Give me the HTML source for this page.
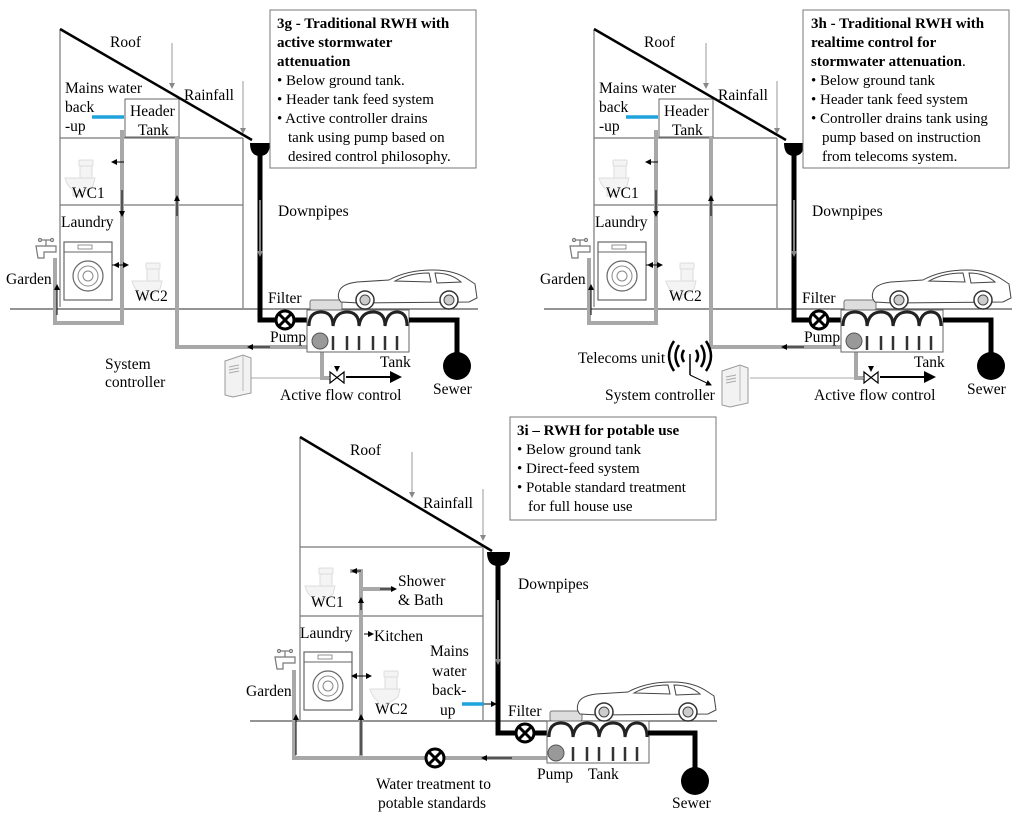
<!DOCTYPE html>
<html><head><meta charset="utf-8"><style>
html,body{margin:0;padding:0;background:#fff}
svg{display:block}
text{font-family:"Liberation Serif",serif;font-size:15.5px;fill:#000}
.b{font-weight:bold}
.s{font-size:15px}
</style></head><body>
<svg width="1024" height="816" viewBox="0 0 1024 816" xmlns="http://www.w3.org/2000/svg">
<defs>
<marker id="ah" markerWidth="6" markerHeight="6" refX="5" refY="3" orient="auto"><path d="M0,0 L6,3 L0,6z" fill="#000"/></marker>
<marker id="ag" markerWidth="6" markerHeight="6" refX="5" refY="3" orient="auto"><path d="M0,0 L6,3 L0,6z" fill="#888"/></marker>
<g id="toilet" fill="#f4f4f4" stroke="#ddd" stroke-width="1">
<rect x="14" y="0" width="14" height="6" rx="1"/>
<rect x="15" y="6" width="12" height="16"/>
<path d="M0,18 L30,18 L28,26 Q20,32 16,32 L16,36 L8,36 L8,30 Q2,26 0,18z"/>
</g>
<g id="washer">
<rect x="0" y="0" width="48" height="58" fill="#fff" stroke="#666" stroke-width="1.2"/>
<line x1="0" y1="10" x2="48" y2="10" stroke="#666"/>
<rect x="14" y="3" width="14" height="4" fill="none" stroke="#666" stroke-width=".7"/>
<circle cx="24" cy="34" r="15" fill="none" stroke="#666" stroke-width="1.2"/>
<circle cx="24" cy="34" r="10" fill="none" stroke="#888"/>
<circle cx="24" cy="34" r="5" fill="none" stroke="#888"/>
</g>
<g id="tap" fill="#fff" stroke="#777" stroke-width="1.2">
<path d="M2,8 L4,20 L10,20 L10,14 L22,14 L22,8z"/>
<line x1="12" y1="8" x2="12" y2="2"/><line x1="6" y1="2" x2="18" y2="2"/>
<circle cx="6" cy="2" r="1.5"/><circle cx="18" cy="2" r="1.5"/>
</g>
<g id="car" fill="#fff" stroke="#444" stroke-width="1">
<path d="M2,22 Q4,14 20,12 L52,10 Q70,0 96,0 Q118,0 132,10 L138,14 L140,28 L132,32 L22,33 L4,32 Q0,28 2,22z"/>
<path d="M58,11 Q72,3 92,3 L94,12z M98,3 Q114,3 124,12 L100,13z" fill="#fff"/>
<circle cx="28" cy="30" r="9" fill="#fff" stroke="#333" stroke-width="1.5"/><circle cx="28" cy="30" r="5" fill="#ccc"/>
<circle cx="112" cy="30" r="9" fill="#fff" stroke="#333" stroke-width="1.5"/><circle cx="112" cy="30" r="5" fill="#ccc"/>
</g>
<g id="tank">
<rect x="3" y="-10" width="32" height="10" fill="#ddd" stroke="#777" rx="2"/>
<rect x="0" y="0" width="102" height="42" fill="#fff" stroke="#666"/>
<path d="M2,16 Q2,2 14,2 Q26,2 26,16 Q28,2 40,2 Q52,2 52,16 Q54,2 66,2 Q78,2 78,16 Q80,2 90,2 Q100,2 100,16" fill="none" stroke="#222" stroke-width="3"/>
<g stroke="#333" stroke-width="2.5"><line x1="26" y1="26" x2="26" y2="40"/><line x1="40" y1="26" x2="40" y2="40"/><line x1="52" y1="26" x2="52" y2="40"/><line x1="66" y1="26" x2="66" y2="40"/><line x1="78" y1="26" x2="78" y2="40"/><line x1="90" y1="26" x2="90" y2="40"/></g>
</g>
<g id="server">
<path d="M0,6 L18,0 L26,3 L26,38 L8,42 L0,40z" fill="#f2f2f2" stroke="#999"/>
<line x1="18" y1="0" x2="18" y2="36" stroke="#bbb"/>
<g stroke="#aaa"><line x1="4" y1="12" x2="14" y2="10"/><line x1="4" y1="15" x2="14" y2="13"/><line x1="4" y1="18" x2="14" y2="16"/></g>
</g>
<g id="xvalve"><circle r="9" fill="#fff" stroke="#000" stroke-width="3"/><path d="M-6,-6 L6,6 M6,-6 L-6,6" stroke="#000" stroke-width="3"/></g>
<g id="panel">
<g stroke="#777" stroke-width="1.2" fill="none">
<line x1="60" y1="30" x2="60" y2="307"/>
<line x1="60" y1="138" x2="243" y2="138"/>
<line x1="60" y1="205" x2="243" y2="205"/>
<line x1="243" y1="138" x2="243" y2="308"/>
</g>
<line x1="10" y1="309" x2="478" y2="309" stroke="#555" stroke-width="1.2"/>
<line x1="172" y1="43" x2="172" y2="88" stroke="#999" marker-end="url(#ag)"/>
<line x1="243" y1="81" x2="243" y2="133" stroke="#999" marker-end="url(#ag)"/>
<rect x="125" y="99" width="54" height="38" fill="#fff" stroke="#666"/>
<line x1="60" y1="29" x2="252" y2="140" stroke="#000" stroke-width="2.5"/>
<line x1="92" y1="117" x2="124" y2="117" stroke="#1fa3dc" stroke-width="3.5"/>
<use href="#toilet" x="65" y="160"/>
<use href="#toilet" x="132" y="263"/>
<use href="#washer" x="64" y="242"/>
<use href="#tap" x="34" y="238"/>
<g stroke="#a8a8a8" stroke-width="4" fill="none">
<polyline points="124,132 122,132 122,323 55,323 55,258"/>
<polyline points="177,137 177,347 312,347"/>
<polyline points="322,345 322,378 330,378"/>
</g>
<g stroke="#000" stroke-width="1" fill="none">
<line x1="124" y1="162" x2="112" y2="162" marker-end="url(#ah)"/>
<line x1="122" y1="190" x2="122" y2="216" marker-end="url(#ah)"/>
<line x1="112" y1="265" x2="128" y2="265" marker-end="url(#ah)"/>
<line x1="124" y1="265" x2="114" y2="265" marker-end="url(#ah)"/>
<line x1="177" y1="216" x2="177" y2="196" marker-end="url(#ah)"/>
<line x1="57" y1="315" x2="57" y2="285" marker-end="url(#ah)"/>
<line x1="270" y1="347" x2="248" y2="347" marker-end="url(#ah)"/>
<line x1="346" y1="377" x2="400" y2="377" stroke-width="2" marker-end="url(#ah)"/>
</g>
<path d="M250,143 L270,143 Q270,156 260,156 Q250,156 250,143z" fill="#000"/>
<polyline points="260,150 260,320 308,320" stroke="#000" stroke-width="5" fill="none"/>
<line x1="260" y1="200" x2="260" y2="256" stroke="#fff" marker-end="url(#ag)"/>
<use href="#xvalve" x="285" y="320"/>
<use href="#tank" x="307" y="310"/>
<polyline points="409,320 457,320 457,355" stroke="#000" stroke-width="5" fill="none"/>
<circle cx="457" cy="366" r="14" fill="#000"/>
<circle cx="320" cy="341" r="8" fill="#999" stroke="#555"/>
<path d="M330,372 L344,383 L344,372 L330,383z" fill="#fff" stroke="#000" stroke-width="1.2"/>
<path d="M334,366 L340,366 L337,372z" fill="#000"/>
<use href="#car" x="337" y="270"/>
<text x="110" y="47">Roof</text>
<text x="65" y="93">Mains water</text>
<text x="65" y="112">back</text>
<text x="65" y="131">-up</text>
<text x="130" y="116">Header</text>
<text x="138" y="135">Tank</text>
<text x="184" y="100">Rainfall</text>
<text x="72" y="198">WC1</text>
<text x="61" y="227">Laundry</text>
<text x="6" y="284">Garden</text>
<text x="135" y="301">WC2</text>
<text x="278" y="216">Downpipes</text>
<text x="268" y="303">Filter</text>
<text x="270" y="342">Pump</text>
<text x="380" y="367">Tank</text>
<text x="433" y="394">Sewer</text>
</g>
</defs>

<use href="#panel"/>
<g stroke="#aaa" fill="none"><line x1="250" y1="378" x2="330" y2="378"/></g>
<use href="#server" x="225" y="355"/>
<text x="105" y="369">System</text>
<text x="105" y="387">controller</text>
<text x="280" y="400">Active flow control</text>
<rect x="270" y="10" width="206" height="158" fill="#fff" stroke="#777"/>
<text x="277" y="28" class="b s">3g - Traditional RWH with</text>
<text x="277" y="47" class="b s">active stormwater</text>
<text x="277" y="66" class="b s">attenuation</text>
<text x="277" y="85" class="s">• Below ground tank.</text>
<text x="277" y="104" class="s">• Header tank feed system</text>
<text x="277" y="123" class="s">• Active controller drains</text>
<text x="288" y="142" class="s">tank using pump based on</text>
<text x="288" y="161" class="s">desired control philosophy.</text>

<g transform="translate(534,0)"><use href="#panel"/></g>
<line x1="750" y1="378" x2="864" y2="378" stroke="#aaa"/>
<use href="#server" x="722" y="365"/>
<g fill="none" stroke="#000" stroke-width="2.5">
<path d="M684,350 Q680,356 684,362"/><path d="M679,345 Q672,356 679,367"/><path d="M674,341 Q664,356 674,371"/>
<path d="M696,350 Q700,356 696,362"/><path d="M701,345 Q708,356 701,367"/><path d="M706,341 Q716,356 706,371"/>
</g>
<line x1="690" y1="354" x2="690" y2="375" stroke="#000" stroke-width="1.5"/>
<line x1="690" y1="375" x2="711" y2="385" stroke="#000" marker-end="url(#ah)"/>
<text x="578" y="363">Telecoms unit</text>
<text x="605" y="400">System controller</text>
<text x="814" y="400">Active flow control</text>
<rect x="803" y="10" width="206" height="158" fill="#fff" stroke="#777"/>
<text x="811" y="28" class="b s">3h - Traditional RWH with</text>
<text x="811" y="47" class="b s">realtime control for</text>
<text x="811" y="66" class="s"><tspan class="b">stormwater attenuation</tspan>.</text>
<text x="811" y="85" class="s">• Below ground tank</text>
<text x="811" y="104" class="s">• Header tank feed system</text>
<text x="811" y="123" class="s">• Controller drains tank using</text>
<text x="822" y="142" class="s">pump based on instruction</text>
<text x="822" y="161" class="s">from telecoms system.</text>

<g stroke="#777" stroke-width="1.2" fill="none">
<line x1="300" y1="437" x2="300" y2="720"/>
<line x1="300" y1="547" x2="483" y2="547"/>
<line x1="300" y1="616" x2="483" y2="616"/>
<line x1="483" y1="548" x2="483" y2="720"/>
</g>
<line x1="250" y1="721" x2="717" y2="721" stroke="#555" stroke-width="1.2"/>
<line x1="412" y1="452" x2="412" y2="497" stroke="#999" marker-end="url(#ag)"/>
<line x1="483" y1="489" x2="483" y2="540" stroke="#999" marker-end="url(#ag)"/>
<line x1="300" y1="437" x2="492" y2="551" stroke="#000" stroke-width="2.5"/>
<use href="#toilet" x="305" y="568"/>
<use href="#toilet" x="370" y="671"/>
<use href="#washer" x="304" y="652"/>
<use href="#tap" x="273" y="649"/>
<g stroke="#a8a8a8" stroke-width="4" fill="none">
<polyline points="548,758 294,758 294,670"/>
<polyline points="361,758 361,571 350,571"/>
<line x1="361" y1="589" x2="392" y2="589"/>
</g>
<g stroke="#000" stroke-width="1" fill="none">
<line x1="361" y1="571" x2="352" y2="571" marker-end="url(#ah)"/>
<line x1="380" y1="589" x2="396" y2="589" marker-end="url(#ah)"/>
<line x1="364" y1="634" x2="373" y2="634" marker-end="url(#ah)"/>
<line x1="352" y1="676" x2="371" y2="676" marker-end="url(#ah)"/>
<line x1="368" y1="676" x2="352" y2="676" marker-end="url(#ah)"/>
<line x1="361" y1="610" x2="361" y2="598" marker-end="url(#ah)"/>
<line x1="296" y1="755" x2="296" y2="715" marker-end="url(#ah)"/>
<line x1="361" y1="755" x2="361" y2="715" marker-end="url(#ah)"/>
<line x1="512" y1="758" x2="482" y2="758" marker-end="url(#ah)"/>
<line x1="480" y1="704" x2="496" y2="704" marker-end="url(#ah)"/>
</g>
<line x1="462" y1="704" x2="484" y2="704" stroke="#1fa3dc" stroke-width="3.5"/>
<use href="#xvalve" x="435" y="758"/>
<path d="M487,552 L510,552 Q510,566 498,566 Q487,566 487,552z" fill="#000"/>
<polyline points="498,558 498,733 549,733" stroke="#000" stroke-width="5" fill="none"/>
<line x1="498" y1="600" x2="498" y2="664" stroke="#fff" marker-end="url(#ag)"/>
<use href="#xvalve" x="525" y="733"/>
<use href="#tank" x="547" y="721"/>
<polyline points="648,733 695,733 695,770" stroke="#000" stroke-width="5" fill="none"/>
<circle cx="695" cy="781" r="14" fill="#000"/>
<circle cx="556" cy="753" r="8" fill="#999" stroke="#555"/>
<use href="#car" x="576" y="682"/>
<text x="350" y="455">Roof</text>
<text x="423" y="508">Rainfall</text>
<text x="398" y="586">Shower</text>
<text x="398" y="605">&amp; Bath</text>
<text x="311" y="607">WC1</text>
<text x="300" y="638">Laundry</text>
<text x="374" y="641">Kitchen</text>
<text x="430" y="656">Mains</text>
<text x="432" y="676">water</text>
<text x="432" y="695">back-</text>
<text x="440" y="715">up</text>
<text x="246" y="696">Garden</text>
<text x="375" y="714">WC2</text>
<text x="518" y="589">Downpipes</text>
<text x="508" y="716">Filter</text>
<text x="537" y="779">Pump</text>
<text x="588" y="779">Tank</text>
<text x="376" y="789">Water treatment to</text>
<text x="378" y="808">potable standards</text>
<text x="672" y="808">Sewer</text>
<rect x="510" y="417" width="206" height="103" fill="#fff" stroke="#777"/>
<text x="517" y="435" class="b s">3i – RWH for potable use</text>
<text x="517" y="454" class="s">• Below ground tank</text>
<text x="517" y="473" class="s">• Direct-feed system</text>
<text x="517" y="492" class="s">• Potable standard treatment</text>
<text x="528" y="511" class="s">for full house use</text>
</svg>
</body></html>
